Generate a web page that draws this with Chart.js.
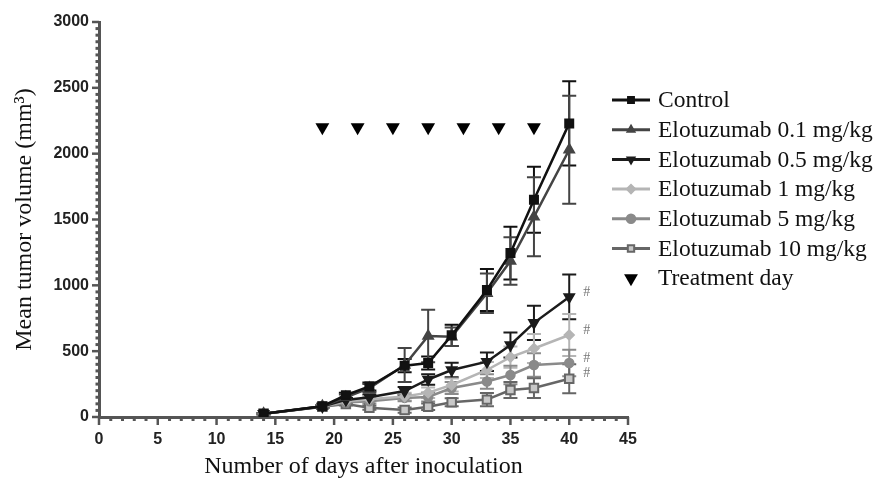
<!DOCTYPE html>
<html>
<head>
<meta charset="utf-8">
<script src="https://cdn.jsdelivr.net/npm/chart.js@4.4.1/dist/chart.umd.min.js"></script>
<style>
  html, body { margin: 0; padding: 0; background: #fff; }
</style>
</head>
<body>
<canvas id="tumorChart" width="877" height="481"></canvas>
<script>
// days after inoculation
const days = [14, 19, 21, 23, 26, 28, 30, 33, 35, 37, 40];

// mean tumor volume (mm3) per group
const control = [25, 82, 165, 232, 390, 410, 620, 965, 1245, 1650, 2230];
const elo01 = [25, 82, 150, 220, 395, 615, 610, 940, 1185, 1520, 2030];
const elo05 = [25, 80, 130, 150, 197, 285, 357, 420, 547, 715, 912];
const elo1 = [25, 80, 120, 135, 155, 185, 243, 357, 455, 520, 623];
const elo5 = [25, 78, 110, 120, 145, 152, 220, 270, 319, 395, 410];
const elo10 = [25, 78, 98, 70, 53, 78, 112, 132, 205, 220, 290];

// SEM error bars
const controlErr = [5, 10, 20, 30, 50, 50, 80, 160, 200, 250, 320];
const elo01Err = [5, 10, 20, 30, 130, 200, 70, 150, 180, 300, 410];
const elo05Err = [5, 10, 15, 20, 30, 40, 55, 70, 95, 130, 170];
const elo1Err = [5, 10, 15, 20, 30, 40, 50, 60, 80, 110, 160];
const elo5Err = [5, 10, 10, 20, 25, 35, 45, 55, 70, 90, 100];
const elo10Err = [5, 10, 10, 15, 20, 25, 30, 50, 60, 75, 110];

// treatment days
const treatDays = [19, 22, 25, 28, 31, 34, 37];
const treatLevel = 2200;

// groups marked with # at the last time point
const hashGroups = [2, 3, 4, 5];

const xTicks = [0, 5, 10, 15, 20, 25, 30, 35, 40, 45];
const yTicks = [0, 500, 1000, 1500, 2000, 2500, 3000];

function pts(vals) {
    return days.map(function(d, i) { return { x: d, y: vals[i] }; });
}

function serie(label, vals, errs, color, style, extra) {
    return Object.assign({
        label: label,
        data: pts(vals),
        errs: errs,
        borderColor: color,
        backgroundColor: color,
        pointBackgroundColor: color,
        pointBorderColor: color,
        borderWidth: 2.5,
        pointStyle: style,
        pointRadius: 5,
        pointBorderWidth: 1.5,
        tension: 0
    }, extra || {});
}

const datasets = [
    serie('Control', control, controlErr, '#111111', 'rect', { pointRadius: 6 }),
    serie('Elotuzumab 0.1 mg/kg', elo01, elo01Err, '#444444', 'triangle', { pointRadius: 6 }),
    serie('Elotuzumab 0.5 mg/kg', elo05, elo05Err, '#1b1b1b', 'triangle', { pointRadius: 6, pointRotation: 180 }),
    serie('Elotuzumab 1 mg/kg', elo1, elo1Err, '#b5b5b5', 'rectRot', { pointRadius: 5 }),
    serie('Elotuzumab 5 mg/kg', elo5, elo5Err, '#8a8a8a', 'circle', { pointRadius: 4.5 }),
    serie('Elotuzumab 10 mg/kg', elo10, elo10Err, '#666666', 'rect', { pointRadius: 6, pointBackgroundColor: '#c8c8c8', pointBorderWidth: 2 }),
    {
        label: 'Treatment day',
        data: treatDays.map(function(d) { return { x: d, y: treatLevel }; }),
        showLine: false,
        borderColor: '#000',
        backgroundColor: '#000',
        pointStyle: 'triangle',
        pointRotation: 180,
        pointRadius: 8,
        pointBorderWidth: 0
    }
];

const axisColor = '#555555';

// error bars, axis ticks, # marks and legend
const extras = {
    id: 'extras',
    beforeDatasetsDraw: function(chart) {
        const ctx = chart.ctx;
        const xs = chart.scales.x, ys = chart.scales.y;
        ctx.save();
        chart.data.datasets.forEach(function(ds) {
            if (!ds.errs) return;
            ctx.strokeStyle = ds.borderColor;
            ctx.lineWidth = 2;
            ds.data.forEach(function(p, i) {
                const e = ds.errs[i];
                const px = xs.getPixelForValue(p.x);
                const top = ys.getPixelForValue(p.y + e);
                const bot = ys.getPixelForValue(Math.max(0, p.y - e));
                ctx.beginPath();
                ctx.moveTo(px, top); ctx.lineTo(px, bot);
                ctx.moveTo(px - 7, top); ctx.lineTo(px + 7, top);
                ctx.moveTo(px - 7, bot); ctx.lineTo(px + 7, bot);
                ctx.stroke();
            });
        });
        ctx.restore();
    },
    afterDraw: function(chart) {
        const ctx = chart.ctx;
        const xs = chart.scales.x, ys = chart.scales.y;
        const area = chart.chartArea;
        ctx.save();
        ctx.strokeStyle = axisColor;
        // y ticks
        for (let v = 0; v <= 3000; v += 50) {
            const py = ys.getPixelForValue(v);
            const major = v % 500 === 0;
            ctx.lineWidth = major ? 2.5 : 3;
            ctx.beginPath();
            ctx.moveTo(area.left, py);
            ctx.lineTo(area.left - (major ? 7 : 3.5), py);
            ctx.stroke();
        }
        // x ticks
        for (let d = 0; d <= 45; d += 1) {
            const px = xs.getPixelForValue(d);
            const major = d % 5 === 0;
            ctx.lineWidth = major ? 2.5 : 3;
            ctx.beginPath();
            ctx.moveTo(px, area.bottom);
            ctx.lineTo(px, area.bottom + (major ? 8 : 4));
            ctx.stroke();
        }
        // # significance marks
        ctx.fillStyle = '#777';
        ctx.font = '14px "Liberation Serif"';
        ctx.textBaseline = 'middle';
        ctx.textAlign = 'left';
        hashGroups.forEach(function(g) {
            const ds = chart.data.datasets[g];
            const last = ds.data[ds.data.length - 1];
            ctx.fillText('#', xs.getPixelForValue(last.x) + 14, ys.getPixelForValue(last.y) - 5);
        });
        // legend
        const lx = 612, ly = 100, step = 29.7;
        ctx.font = '23.5px "Liberation Serif"';
        ctx.fillStyle = '#111';
        chart.data.datasets.forEach(function(ds, i) {
            const y = ly + i * step;
            if (ds.errs) {
                ctx.strokeStyle = ds.borderColor;
                ctx.lineWidth = 3;
                ctx.beginPath();
                ctx.moveTo(lx, y); ctx.lineTo(lx + 38, y);
                ctx.stroke();
            }
            ctx.fillStyle = ds.pointBackgroundColor || ds.backgroundColor;
            ctx.strokeStyle = ds.borderColor;
            ctx.lineWidth = ds.pointBorderWidth || 0;
            Chart.helpers.drawPoint(ctx, {
                pointStyle: ds.pointStyle,
                radius: ds.errs ? 4.5 : 8,
                rotation: ds.pointRotation || 0,
                borderWidth: ds.pointBorderWidth || 0
            }, lx + 19, y);
            ctx.fillStyle = '#111';
            ctx.fillText(ds.label, lx + 46, y + 1);
        });
        ctx.restore();
    }
};

const tickFont = { family: '"Liberation Sans", Arial', size: 16, weight: 'bold' };
const titleFont = { family: '"Liberation Serif", "Times New Roman"', size: 24 };

new Chart(document.getElementById('tumorChart'), {
    type: 'line',
    data: { datasets: datasets },
    options: {
        responsive: false,
        animation: false,
        layout: { padding: { top: 22, right: 249, left: 0, bottom: 0 } },
        plugins: {
            legend: { display: false },
            tooltip: { enabled: false }
        },
        scales: {
            x: {
                type: 'linear',
                min: 0,
                max: 45,
                afterBuildTicks: function(scale) {
                    scale.ticks = xTicks.map(function(v) { return { value: v }; });
                },
                afterFit: function(scale) { scale.height = 64; },
                grid: { display: false },
                border: { display: true, color: axisColor, width: 3 },
                ticks: {
                    padding: 5,
                    color: '#222',
                    font: tickFont,
                    callback: function(v) { return String(v); }
                },
                title: {
                    display: true,
                    text: 'Number of days after inoculation',
                    color: '#111',
                    padding: { top: 0, bottom: 0 },
                    font: titleFont
                }
            },
            y: {
                min: 0,
                max: 3000,
                afterBuildTicks: function(scale) {
                    scale.ticks = yTicks.map(function(v) { return { value: v }; });
                },
                afterFit: function(scale) { scale.width = 99; },
                grid: { display: false },
                border: { display: true, color: axisColor, width: 3 },
                ticks: {
                    padding: 2,
                    color: '#222',
                    font: tickFont,
                    callback: function(v) { return String(v); }
                },
                title: {
                    display: true,
                    text: 'Mean tumor volume (mm\u00b3)',
                    color: '#111',
                    padding: { top: 10, bottom: 0 },
                    font: titleFont
                }
            }
        }
    },
    plugins: [extras]
});
</script>
</body>
</html>
